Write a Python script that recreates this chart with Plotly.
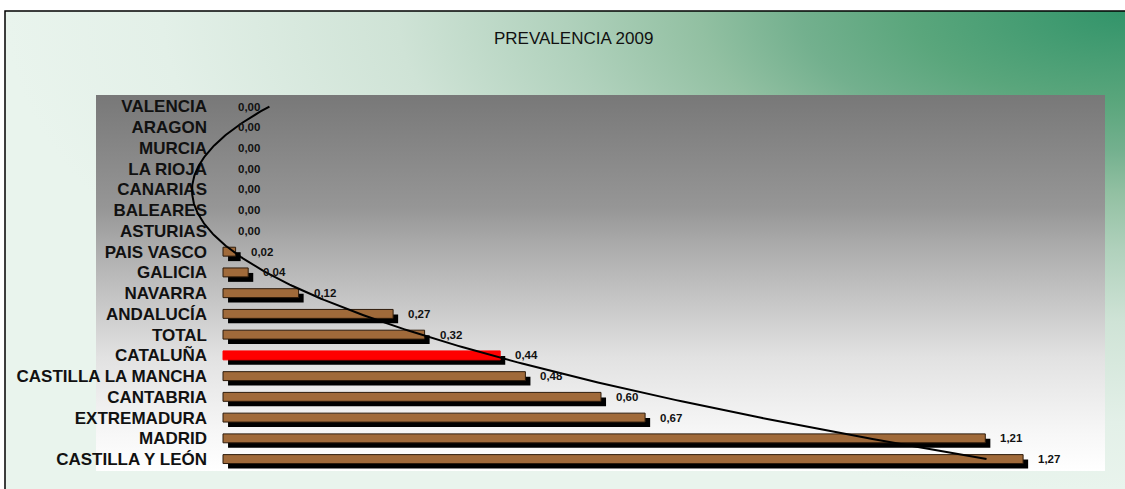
"""Prevalencia 2009 por comunidad: barras horizontales con línea de tendencia."""

import base64

import numpy as np
import plotly.graph_objects as go

REGIONES = [
    "VALENCIA", "ARAGON", "MURCIA", "LA RIOJA", "CANARIAS", "BALEARES",
    "ASTURIAS", "PAIS VASCO", "GALICIA", "NAVARRA", "ANDALUCÍA", "TOTAL",
    "CATALUÑA", "CASTILLA LA MANCHA", "CANTABRIA", "EXTREMADURA", "MADRID",
    "CASTILLA Y LEÓN",
]
PREVALENCIA = [
    0.00, 0.00, 0.00, 0.00, 0.00, 0.00, 0.00, 0.02, 0.04, 0.12, 0.27, 0.32,
    0.44, 0.48, 0.60, 0.67, 1.21, 1.27,
]
DESTACADA = "CATALUÑA"
TITULO = "PREVALENCIA 2009"

# tamaño de la figura y margenes (px); el área de trazado incluye las etiquetas
W, H = 1125, 489
ML, MR, MT, MB = 96, 20, 95, 18
PW, PH = W - ML - MR, H - MT - MB
CERO_PX, PX_UNIDAD = 223, 630
FONT = "Liberation Sans, Arial, sans-serif"

COLOR_BARRA = "#a06a3a"
COLOR_BORDE = "#2e1c0c"
COLOR_ROJO = "#ff0000"


def px(x):
    return (x - ML) / PW


def py(y):
    return (H - MB - y) / PH


def svg_uri(svg: str) -> str:
    return "data:image/svg+xml;base64," + base64.b64encode(svg.encode()).decode()


fondo_exterior = svg_uri(
    "<svg xmlns='http://www.w3.org/2000/svg' width='1120' height='478' "
    "viewBox='0 0 1120 478' preserveAspectRatio='none'><defs>"
    "<radialGradient id='g' cx='1' cy='0' r='1'>"
    "<stop offset='0' stop-color='#32946a'/>"
    "<stop offset='0.19' stop-color='#5aa67c'/>"
    "<stop offset='0.29' stop-color='#73b08e'/>"
    "<stop offset='0.38' stop-color='#92c0a2'/>"
    "<stop offset='0.5' stop-color='#b0d1bc'/>"
    "<stop offset='0.65' stop-color='#cfe3d6'/>"
    "<stop offset='0.86' stop-color='#e3f0e8'/>"
    "<stop offset='1' stop-color='#e9f4ed'/>"
    "</radialGradient></defs>"
    "<rect width='1120' height='478' fill='url(#g)'/></svg>"
)

fondo_grafico = svg_uri(
    "<svg xmlns='http://www.w3.org/2000/svg' width='100' height='376' "
    "viewBox='0 0 100 376' preserveAspectRatio='none'><defs>"
    "<linearGradient id='g' x1='0' y1='0' x2='0' y2='1'>"
    "<stop offset='0' stop-color='#787878'/>"
    "<stop offset='0.3' stop-color='#969696'/>"
    "<stop offset='0.4' stop-color='#ababab'/>"
    "<stop offset='0.7' stop-color='#e2e2e2'/>"
    "<stop offset='0.9' stop-color='#f7f7f7'/>"
    "<stop offset='1' stop-color='#ffffff'/>"
    "</linearGradient></defs>"
    "<rect width='100' height='376' fill='url(#g)'/></svg>"
)

idx = list(range(len(REGIONES)))
colores = [COLOR_ROJO if r == DESTACADA else COLOR_BARRA for r in REGIONES]
bordes = [COLOR_ROJO if r == DESTACADA else COLOR_BORDE for r in REGIONES]
grosor = [1 if v > 0 else 0 for v in PREVALENCIA]

# tendencia polinómica (orden 2), como la de Excel: x = 1 abajo ... 18 arriba
x_excel = np.arange(1, len(REGIONES) + 1)
vals_excel = np.array(PREVALENCIA[::-1])
coef = np.polyfit(x_excel, vals_excel, 2)
t = np.linspace(1, len(REGIONES), 300)
tendencia_x = np.polyval(coef, t)
tendencia_y = len(REGIONES) - t

ANCHO = 0.43
SOMBRA_Y = 0.24
SOMBRA_X = 0.008

fig = go.Figure()
fig.add_bar(
    x=PREVALENCIA, y=idx, orientation="h", base=SOMBRA_X,
    width=ANCHO, offset=-ANCHO / 2 + SOMBRA_Y,
    marker=dict(color="#000000", line=dict(width=0)),
    hoverinfo="skip", showlegend=False,
)
fig.add_bar(
    x=PREVALENCIA, y=idx, orientation="h", width=ANCHO,
    marker=dict(color=colores, line=dict(color=bordes, width=grosor)),
    showlegend=False,
)
fig.add_scatter(
    x=tendencia_x, y=tendencia_y, mode="lines",
    line=dict(color="#000000", width=2), hoverinfo="skip", showlegend=False,
)

for i, v in enumerate(PREVALENCIA):
    fig.add_annotation(
        x=v, y=i, xref="x", yref="y", xanchor="left", yanchor="middle",
        xshift=13, showarrow=False,
        text=f"{v:.2f}".replace(".", ","),
        font=dict(family=FONT, size=11.5, color="#111111", weight="bold"),
    )

fig.add_annotation(
    x=px(573), y=py(39), xref="paper", yref="paper",
    xanchor="center", yanchor="middle", showarrow=False, text=TITULO,
    font=dict(family=FONT, size=17, color="#111111"),
)

fig.update_layout(
    width=W, height=H, autosize=False,
    margin=dict(l=ML, r=MR, t=MT, b=MB, pad=0),
    paper_bgcolor="#ffffff", plot_bgcolor="rgba(0,0,0,0)",
    barmode="overlay", font=dict(family=FONT),
    images=[
        dict(source=fondo_exterior, xref="paper", yref="paper",
             x=px(5), y=py(11), sizex=1120 / PW, sizey=478 / PH,
             xanchor="left", yanchor="top", sizing="stretch", layer="below"),
        dict(source=fondo_grafico, xref="paper", yref="paper",
             x=0, y=1, sizex=1, sizey=1,
             xanchor="left", yanchor="top", sizing="stretch", layer="below"),
    ],
    shapes=[
        dict(type="rect", xref="paper", yref="paper",
             x0=px(5), x1=px(1141), y0=py(495), y1=py(11),
             line=dict(color="#000000", width=1.5), layer="below"),
    ],
)
fig.update_xaxes(
    range=[(ML - CERO_PX) / PX_UNIDAD, (W - MR - CERO_PX) / PX_UNIDAD],
    visible=False, fixedrange=True,
)
fig.update_yaxes(
    tickvals=idx, ticktext=REGIONES, range=[17.575, -0.555],
    showgrid=False, zeroline=False, showline=False, ticks="",
    layer="below traces",
    ticklabelstandoff=-(206 - ML) - 2,
    tickfont=dict(family=FONT, size=17, color="#111111", weight="bold"),
)

fig.write_html(
    "out.html",
    config={"displayModeBar": False},
    post_script="document.body.style.margin='0';",
)
